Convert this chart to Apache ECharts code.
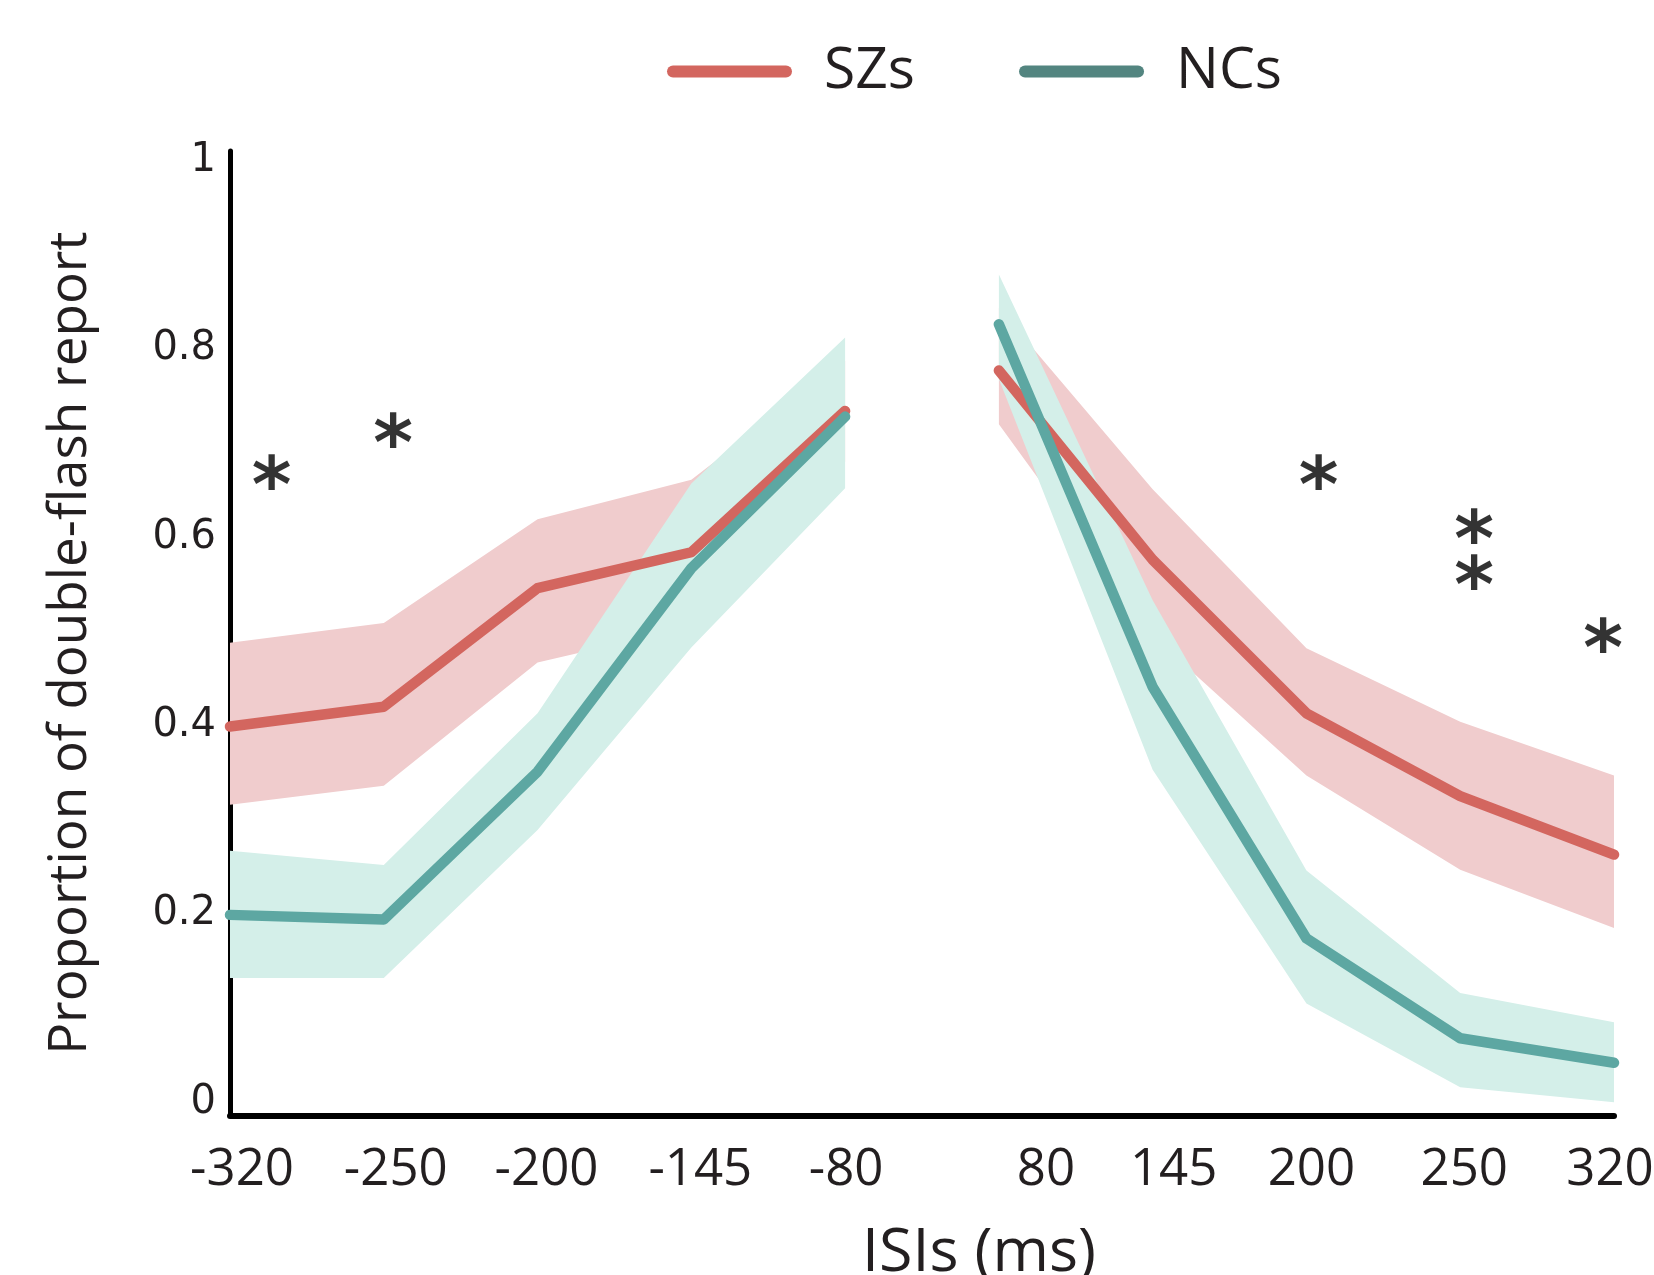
<!DOCTYPE html>
<html>
<head>
<meta charset="utf-8">
<script src="https://cdn.jsdelivr.net/npm/echarts@6/dist/echarts.min.js"></script>
<style>
  html, body { margin: 0; padding: 0; background: #fff; }
  #chart { width: 1654px; height: 1275px; }
</style>
</head>
<body>
<div id="chart"></div>
<script>
// ---- data ----
const categories = ['-320', '-250', '-200', '-145', '-80', '80', '145', '200', '250', '320'];
const szMean  = [0.399, 0.420, 0.546, 0.584, 0.734, 0.777, 0.576, 0.413, 0.325, 0.263];
const szUpper = [0.488, 0.509, 0.619, 0.661, 0.787, 0.843, 0.651, 0.482, 0.404, 0.347];
const szLower = [0.316, 0.336, 0.467, 0.505, 0.680, 0.720, 0.495, 0.347, 0.247, 0.185];
const ncMean  = [0.199, 0.194, 0.351, 0.567, 0.728, 0.826, 0.441, 0.174, 0.068, 0.042];
const ncUpper = [0.267, 0.252, 0.413, 0.657, 0.812, 0.879, 0.533, 0.246, 0.116, 0.085];
const ncLower = [0.132, 0.132, 0.289, 0.483, 0.652, 0.768, 0.353, 0.105, 0.016, 0.000];
const yTicks  = [0, 0.2, 0.4, 0.6, 0.8, 1];
// significance markers (position along the category axis, height)
const starX = [0.27, 1.06, 7.08, 8.09, 8.09, 8.93];
const starY = [0.668, 0.712, 0.668, 0.611, 0.562, 0.495];
const starText = ['*', '*', '*', '*', '*', '*'];

// ---- styling ----
const C = {
  szLine: '#D3665F', ncLine: '#5DA7A2',
  szBand: '#F0CCCD', ncBand: '#D4EFE9',
  szLegend: '#D3665F', ncLegend: '#538580',
  text: '#231F20'
};
const labelShift = [12, 12, 9, 9, 1, 47, 21, 5, 4, -4]; // px, horizontal tick label nudges
const TXT = 'Open Sans';

const half = (arr, left) => arr.map((v, i) => ((left ? i < 5 : i >= 5) ? v : '-'));
const diff = (u, l) => u.map((v, i) => +(v - l[i]).toFixed(4));

function band(name, lower, upper, color, left) {
  const key = name + (left ? 'L' : 'R');
  return [
    { name: name + ' lo', type: 'line', stack: key, data: half(lower, left),
      symbol: 'none', lineStyle: { opacity: 0, width: 0 }, silent: true, z: 1 },
    { name: name + ' band', type: 'line', stack: key, data: half(diff(upper, lower), left),
      symbol: 'none', lineStyle: { opacity: 0, width: 0 },
      areaStyle: { color: color, opacity: 1 }, silent: true, z: 1 }
  ];
}
function line(name, data, color, left) {
  return { name: name, type: 'line', data: half(data, left), symbol: 'none',
    lineStyle: { color: color, width: 10.5, cap: 'round', join: 'round' },
    itemStyle: { color: color }, z: 3 };
}

const rich = {};
labelShift.forEach((s, i) => {
  rich['t' + i] = {
    fontSize: 51, fontFamily: TXT, color: C.text,
    padding: s >= 0 ? [0, 0, 0, 2 * s] : [0, -2 * s, 0, 0]
  };
});

const option = {
  animation: false,
  backgroundColor: '#fff',
  legend: {
    left: 662, top: 38,
    itemWidth: 125, itemHeight: 12, itemGap: 104,
    icon: 'path://M6,0 L119,0 A6,6 0 0 1 119,12 L6,12 A6,6 0 0 1 6,0 Z',
    textStyle: { fontSize: 57, fontFamily: TXT, color: C.text, padding: [0, 0, 0, 27] },
    selectedMode: false,
    data: [
      { name: 'SZs', itemStyle: { color: C.szLegend } },
      { name: 'NCs', itemStyle: { color: C.ncLegend } }
    ]
  },
  grid: { left: 230, right: 40, top: 151, bottom: 159.5, containLabel: false, outerBoundsMode: 'none' },
  xAxis: [
    {
      type: 'category', data: categories, boundaryGap: false,
      axisLine: { show: true, onZero: false, lineStyle: { color: '#000', width: 6 } },
      axisTick: { show: false },
      axisLabel: {
        interval: 0, margin: 29, fontSize: 51, fontFamily: TXT, color: C.text,
        formatter: (v, i) => '{t' + i + '|' + v + '}', rich: rich
      },
      splitLine: { show: false },
      name: 'ISIs (ms)', nameLocation: 'middle', nameGap: 108,
      nameTextStyle: { fontSize: 61, fontFamily: TXT, color: C.text, padding: [0, 0, 0, 114] }
    },
    { type: 'value', min: 0, max: 9, show: false }
  ],
  yAxis: {
    type: 'value', min: -0.014, max: 1.01,
    axisLine: { show: true, lineStyle: { color: '#000', width: 5 } },
    axisTick: { show: false },
    splitLine: { show: false },
    axisLabel: {
      customValues: yTicks, margin: 14, fontSize: 40, fontFamily: 'DejaVu Sans', color: C.text,
      formatter: v => String(v)
    },
    name: 'Proportion of double-flash report', nameLocation: 'middle', nameRotate: 90, nameGap: 133,
    nameTextStyle: { fontSize: 53, fontFamily: TXT, color: C.text, padding: [0, 20, 0, 0] }
  },
  series: [
    ...band('SZs', szLower, szUpper, C.szBand, true),
    ...band('SZs', szLower, szUpper, C.szBand, false),
    ...band('NCs', ncLower, ncUpper, C.ncBand, true),
    ...band('NCs', ncLower, ncUpper, C.ncBand, false),
    line('SZs', szMean, C.szLine, true),
    line('SZs', szMean, C.szLine, false),
    line('NCs', ncMean, C.ncLine, true),
    line('NCs', ncMean, C.ncLine, false),
    {
      name: 'sig', type: 'scatter', xAxisIndex: 1, yAxisIndex: 0,
      data: starX.map((x, i) => ({ value: [x, starY[i]], label: { formatter: starText[i] } })),
      symbolSize: 1, itemStyle: { color: 'rgba(0,0,0,0)' }, silent: true, z: 5,
      label: { show: true, position: 'inside', fontSize: 76, fontWeight: 'bold', fontFamily: 'DejaVu Sans',
        color: '#000', offset: [0, 18] }
    }
  ]
};

const chart = echarts.init(document.getElementById('chart'), null, { renderer: 'canvas' });
chart.setOption(option);
</script>
</body>
</html>
